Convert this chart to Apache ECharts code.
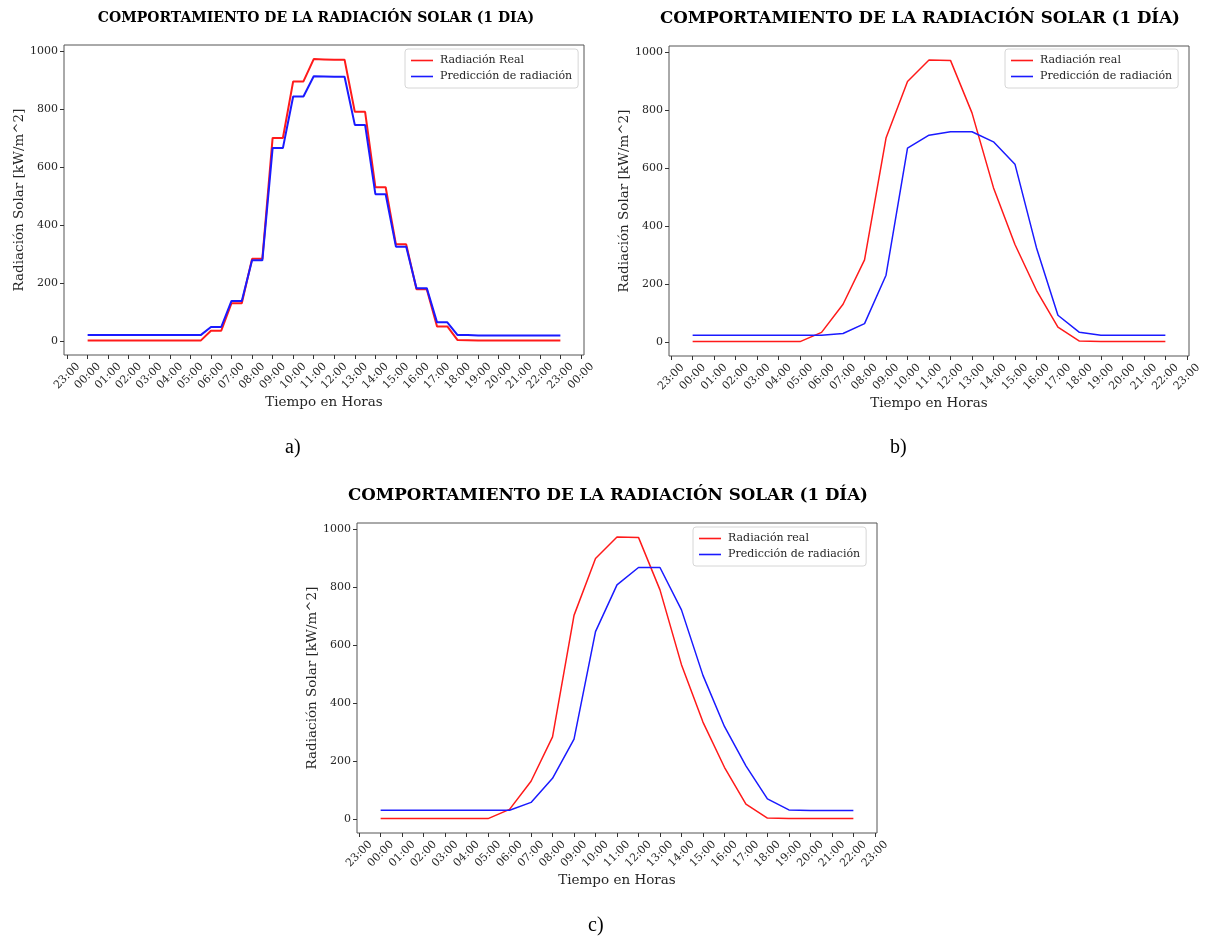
<!DOCTYPE html>
<html>
<head>
<meta charset="utf-8">
<script src="https://cdn.jsdelivr.net/npm/echarts@6/dist/echarts.min.js"></script>
<style>
  html, body { margin: 0; padding: 0; background: #fff; }
  #main { width: 1210px; height: 942px; }
</style>
</head>
<body>
<div id="main"></div>
<script>
// chart a) half-hour samples, 00:00 .. 23:00
const timesA = [0, 0.5, 1, 1.5, 2, 2.5, 3, 3.5, 4, 4.5, 5, 5.5, 6, 6.5, 7, 7.5, 8, 8.5, 9, 9.5,
  10, 10.5, 11, 11.5, 12, 12.5, 13, 13.5, 14, 14.5, 15, 15.5, 16, 16.5, 17, 17.5, 18, 18.5,
  19, 19.5, 20, 20.5, 21, 21.5, 22, 22.5, 23];
const realA = [1, 1, 1, 1, 1, 1, 1, 1, 1, 1, 1, 1, 35, 35, 130, 130, 283, 283, 700, 700,
  895, 895, 972, 971, 970, 970, 790, 790, 530, 530, 333, 333, 178, 178, 50, 50, 3, 2,
  1, 1, 1, 1, 1, 1, 1, 1, 1];
const predA = [20, 20, 20, 20, 20, 20, 20, 20, 20, 20, 20, 20, 48, 48, 138, 138, 278, 278, 665, 665,
  843, 843, 913, 912, 911, 911, 745, 745, 506, 506, 325, 325, 182, 182, 64, 64, 20, 20,
  19, 19, 19, 19, 19, 19, 19, 19, 19];

// charts b) and c) hourly samples, 00:00 .. 22:00
const hoursBC = [0, 1, 2, 3, 4, 5, 6, 7, 8, 9, 10, 11, 12, 13, 14, 15, 16, 17, 18, 19, 20, 21, 22];
const realB = [1, 1, 1, 1, 1, 1, 33, 130, 283, 703, 898, 972, 971, 790, 532, 336, 178, 51, 3, 1, 1, 1, 1];
const predB = [23, 23, 23, 23, 23, 23, 23, 29, 63, 230, 668, 713, 725, 725, 690, 613, 325, 92, 33, 23, 23, 23, 23];
const realC = [1, 1, 1, 1, 1, 1, 33, 130, 283, 702, 898, 972, 971, 790, 532, 334, 178, 51, 3, 1, 1, 1, 1];
const predC = [30, 30, 30, 30, 30, 30, 30, 57, 140, 275, 646, 807, 867, 867, 721, 495, 319, 183, 69, 31, 29, 29, 29];

const ticksA = [-1, 0, 1, 2, 3, 4, 5, 6, 7, 8, 9, 10, 11, 12, 13, 14, 15, 16, 17, 18, 19, 20, 21, 22, 23, 24];
const ticksBC = [-1, 0, 1, 2, 3, 4, 5, 6, 7, 8, 9, 10, 11, 12, 13, 14, 15, 16, 17, 18, 19, 20, 21, 22, 23];
const yTicks = [0, 200, 400, 600, 800, 1000];

const serif = 'DejaVu Serif';
const ink = '#262626';

function hourLabel(v) {
  const h = ((Math.round(v) % 24) + 24) % 24;
  return (h < 10 ? '0' : '') + h + ':00';
}
function pairs(xs, ys) {
  return xs.map((x, i) => [x, ys[i]]);
}

function xAxis(idx, min, max, ticks) {
  return {
    type: 'value', gridIndex: idx, min: min, max: max,
    name: 'Tiempo en Horas', nameLocation: 'middle', nameGap: 40,
    nameTextStyle: { fontFamily: serif, fontSize: 13.5, color: ink },
    axisLine: { show: false, onZero: false },
    splitLine: { show: false },
    axisTick: { length: 4, lineStyle: { color: '#333' }, customValues: ticks },
    axisLabel: {
      customValues: ticks, formatter: hourLabel, rotate: 45,
      align: 'center', verticalAlign: 'middle', margin: 21,
      fontFamily: serif, fontSize: 11, color: ink
    }
  };
}
function yAxis(idx) {
  return {
    type: 'value', gridIndex: idx, min: -48.6, max: 1020.6,
    name: 'Radiación Solar [kW/m^2]', nameLocation: 'middle', nameGap: 36,
    nameTextStyle: { fontFamily: serif, fontSize: 13.5, color: ink },
    axisLine: { show: false, onZero: false },
    splitLine: { show: false },
    axisTick: { length: 4, lineStyle: { color: '#333' }, customValues: yTicks },
    axisLabel: { customValues: yTicks, formatter: v => String(v), fontFamily: serif, fontSize: 11, color: ink, margin: 6 }
  };
}
function grid(left, top) {
  return { left: left, top: top, width: 520, height: 310, show: true,
    borderColor: '#555', borderWidth: 1, backgroundColor: 'transparent' };
}
function legend(left, top, names) {
  return {
    left: left, top: top, orient: 'vertical', data: names,
    icon: 'rect', itemWidth: 22, itemHeight: 1.6, itemGap: 5,
    backgroundColor: '#fff', borderColor: '#d6d6d6', borderWidth: 1, borderRadius: 3,
    padding: [6, 6, 6, 6],
    textStyle: { fontFamily: serif, fontSize: 11, color: ink, padding: [0, 0, 0, 2] }
  };
}
function line(name, idx, data, color, width) {
  return {
    name: name, type: 'line', xAxisIndex: idx, yAxisIndex: idx, data: data,
    symbol: 'none', lineStyle: { color: color, width: width }, itemStyle: { color: color },
    animation: false
  };
}
function title(text, center, top, size) {
  return {
    text: text, left: center, top: top, textAlign: 'center',
    textStyle: { fontFamily: serif, fontWeight: 'bold', fontSize: size, color: '#000' }
  };
}
function caption(text, x, y) {
  return {
    type: 'text', left: x, top: y,
    style: { text: text, font: '20px "Liberation Serif"', fill: '#000' }
  };
}

const chart = echarts.init(document.getElementById('main'));
chart.setOption({
  backgroundColor: '#fff',
  animation: false,
  title: [
    title('COMPORTAMIENTO DE LA RADIACIÓN SOLAR (1 DIA)', 311, 6, 14),
    title('COMPORTAMIENTO DE LA RADIACIÓN SOLAR (1 DÍA)', 915, 5, 16.7),
    title('COMPORTAMIENTO DE LA RADIACIÓN SOLAR (1 DÍA)', 603, 482, 16.7)
  ],
  grid: [grid(64, 45), grid(669, 46), grid(357, 523)],
  xAxis: [xAxis(0, -1.15, 24.15, ticksA), xAxis(1, -1.1, 23.1, ticksBC), xAxis(2, -1.1, 23.1, ticksBC)],
  yAxis: [yAxis(0), yAxis(1), yAxis(2)],
  legend: [
    legend(405, 49, ['Radiación Real', 'Predicción de radiación']),
    legend(1005, 49, ['Radiación real', 'Predicción de radiación']),
    legend(693, 527, ['Radiación real', 'Predicción de radiación'])
  ],
  series: [
    line('Radiación Real', 0, pairs(timesA, realA), '#ff1a1a', 2),
    line('Predicción de radiación', 0, pairs(timesA, predA), '#1a1aff', 2),
    line('Radiación real', 1, pairs(hoursBC, realB), '#ff1a1a', 1.5),
    line('Predicción de radiación', 1, pairs(hoursBC, predB), '#1a1aff', 1.5),
    line('Radiación real', 2, pairs(hoursBC, realC), '#ff1a1a', 1.5),
    line('Predicción de radiación', 2, pairs(hoursBC, predC), '#1a1aff', 1.5)
  ],
  graphic: [caption('a)', 285, 438), caption('b)', 890, 438), caption('c)', 588, 916)]
});
</script>
</body>
</html>
